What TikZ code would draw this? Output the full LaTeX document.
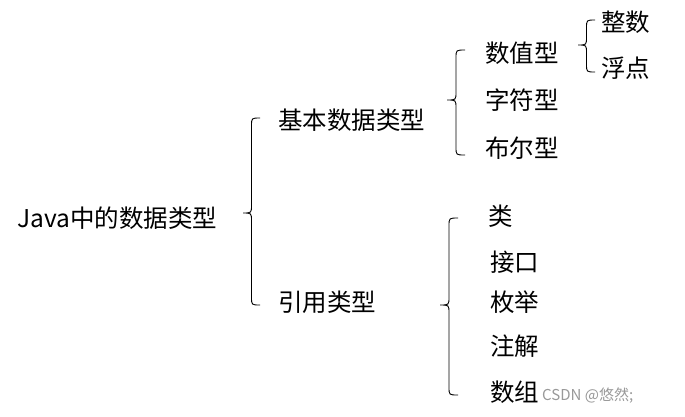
\documentclass[tikz,border=0pt]{standalone}
\usepackage{fontspec}
\setmainfont{Noto Sans CJK SC}
\newcommand\mybrace[5]{% xl xr top tip bot
  \draw[bracestyle] (#2,#3) .. controls ({(#1+#2)/2},#3) .. ({(#1+#2)/2},#3+8)
    -- ({(#1+#2)/2},#4-8) .. controls ({(#1+#2)/2},#4) .. (#1,#4)
    .. controls ({(#1+#2)/2},#4) .. ({(#1+#2)/2},#4+8)
    -- ({(#1+#2)/2},#5-8) .. controls ({(#1+#2)/2},#5) .. (#2,#5);}
\begin{document}
\begin{tikzpicture}[x=1pt,y=-1pt,
  bracestyle/.style={draw=black,line width=0.9pt},
  lbl/.style={anchor=west,inner sep=0pt,font=\fontsize{24.5}{26}\selectfont},
  wm/.style={anchor=west,inner sep=0pt,font=\fontsize{15}{17}\selectfont,text=black!40}]
\useasboundingbox[fill=white] (0,0) rectangle (685,416);
\node[lbl] (java) at (17,218) {Java中的数据类型};
\mybrace{243}{260}{118}{213}{305}
\node[lbl] (basic) at (278,120) {基本数据类型};
\node[lbl] (ref) at (278,302) {引用类型};
\mybrace{447}{465}{50}{100}{155}
\node[lbl] (num) at (485,53) {数值型};
\node[lbl] (chr) at (485,100) {字符型};
\node[lbl] (bool) at (485,148) {布尔型};
\mybrace{578}{595}{20}{45}{72}
\node[lbl] (int) at (601,22) {整数};
\node[lbl] (flt) at (601,68) {浮点};
\mybrace{440}{458}{218}{305}{395}
\node[lbl] (cls) at (488,216) {类};
\node[lbl] (ifc) at (490,262) {接口};
\node[lbl] (enm) at (490,302) {枚举};
\node[lbl] (ann) at (490,346) {注解};
\node[lbl] (arr) at (490,392) {数组};
\node[wm] (mark) at (542,396) {CSDN @悠然;};
\end{tikzpicture}
\end{document}
